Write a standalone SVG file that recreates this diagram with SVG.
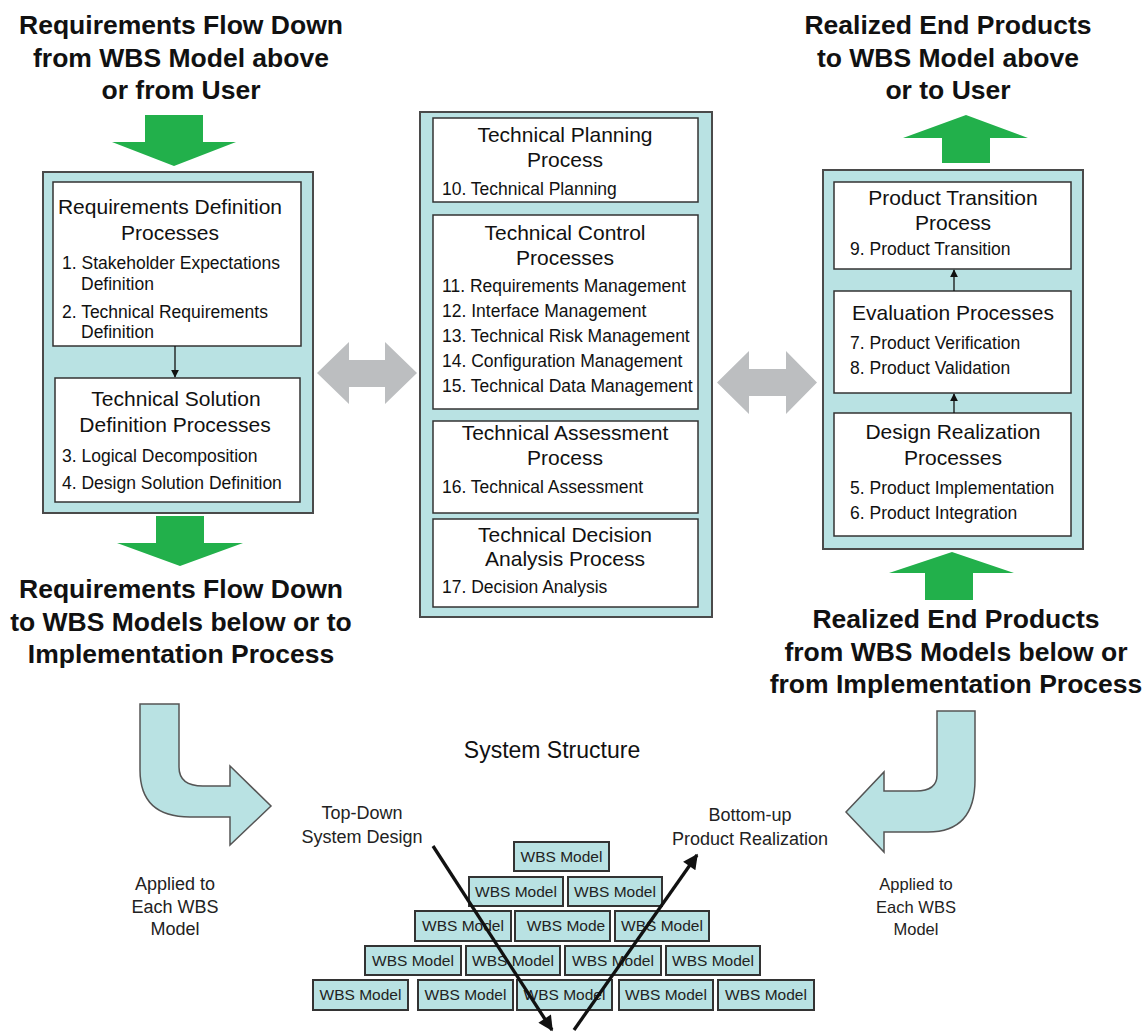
<svg xmlns="http://www.w3.org/2000/svg" width="1144" height="1034" viewBox="0 0 1144 1034">
<defs>
<style>
.panel{fill:#b9e2e3;stroke:#4a4a4a;stroke-width:2}
.box{fill:#fff;stroke:#333;stroke-width:1.5}
.wbs{fill:#b9e2e3;stroke:#333;stroke-width:2}
.head{font-family:"Liberation Sans",Arial,sans-serif;font-weight:bold;font-size:26.5px;fill:#111;text-anchor:middle}
.title{font-family:"Liberation Sans",Arial,sans-serif;font-size:21px;fill:#111;text-anchor:middle}
.item{font-family:"Liberation Sans",Arial,sans-serif;font-size:17.5px;fill:#111}
.lbl{font-family:"Liberation Sans",Arial,sans-serif;font-size:18px;fill:#222;text-anchor:middle}
.wt{font-family:"Liberation Sans",Arial,sans-serif;font-size:15.5px;fill:#222;text-anchor:middle}
.green{fill:#22b04b}
.gray{fill:#bcbec0}
.curve{fill:#b9e2e3;stroke:#555;stroke-width:1.5}
.thin{stroke:#111;stroke-width:1.3;fill:none}
.thick{stroke:#111;stroke-width:3.3;fill:none}
</style>
<marker id="sm" viewBox="0 0 10 10" refX="9" refY="5" markerWidth="8" markerHeight="8" markerUnits="userSpaceOnUse" orient="auto">
<path d="M0,0 L10,5 L0,10 Z" fill="#111"/>
</marker>
<marker id="bm" viewBox="0 0 10 10" refX="9" refY="5" markerWidth="17" markerHeight="15" markerUnits="userSpaceOnUse" orient="auto">
<path d="M0,0 L10,5 L0,10 Z" fill="#111"/>
</marker>
</defs>
<rect width="1144" height="1034" fill="#fff"/>

<g id="heading-left">
<text class="head" x="181" y="34">Requirements Flow Down</text>
<text class="head" x="181" y="67">from WBS Model above</text>
<text class="head" x="181" y="99">or from User</text>
</g>
<g id="heading-right">
<text class="head" x="948" y="34">Realized End Products</text>
<text class="head" x="948" y="67">to WBS Model above</text>
<text class="head" x="948" y="99">or to User</text>
</g>
<g id="heading-bottom-left">
<text class="head" x="181" y="598">Requirements Flow Down</text>
<text class="head" x="181" y="631">to WBS Models below or to</text>
<text class="head" x="181" y="663">Implementation Process</text>
</g>
<g id="heading-bottom-right">
<text class="head" x="956" y="628">Realized End Products</text>
<text class="head" x="956" y="661">from WBS Models below or</text>
<text class="head" x="956" y="693">from Implementation Process</text>
</g>

<g id="left-panel">
<rect class="panel" x="43" y="172" width="270" height="341"/>
<g id="req-def">
<rect class="box" x="53" y="182" width="248" height="164"/>
<text class="title" x="170" y="214">Requirements Definition</text>
<text class="title" x="170" y="240">Processes</text>
<text class="item" x="62" y="269">1. Stakeholder Expectations</text>
<text class="item" x="81" y="290">Definition</text>
<text class="item" x="62" y="318">2. Technical Requirements</text>
<text class="item" x="81" y="338">Definition</text>
</g>
<g id="tech-sol">
<rect class="box" x="55" y="378" width="245" height="124"/>
<text class="title" x="176" y="406">Technical Solution</text>
<text class="title" x="175" y="432">Definition Processes</text>
<text class="item" x="62" y="462">3. Logical Decomposition</text>
<text class="item" x="62" y="489">4. Design Solution Definition</text>
</g>
</g>

<g id="middle-panel">
<rect class="panel" x="420" y="112" width="292" height="505"/>
<g id="tech-planning">
<rect class="box" x="433" y="118" width="265" height="84"/>
<text class="title" x="565" y="142">Technical Planning</text>
<text class="title" x="565" y="167">Process</text>
<text class="item" x="442" y="195">10. Technical Planning</text>
</g>
<g id="tech-control">
<rect class="box" x="433" y="215" width="265" height="194"/>
<text class="title" x="565" y="240">Technical Control</text>
<text class="title" x="565" y="265">Processes</text>
<text class="item" x="442" y="292">11. Requirements Management</text>
<text class="item" x="442" y="317">12. Interface Management</text>
<text class="item" x="442" y="342">13. Technical Risk Management</text>
<text class="item" x="442" y="367">14. Configuration Management</text>
<text class="item" x="442" y="392">15. Technical Data Management</text>
</g>
<g id="tech-assessment">
<rect class="box" x="433" y="421" width="265" height="92"/>
<text class="title" x="565" y="440">Technical Assessment</text>
<text class="title" x="565" y="465">Process</text>
<text class="item" x="442" y="493">16. Technical Assessment</text>
</g>
<g id="tech-decision">
<rect class="box" x="433" y="519" width="265" height="88"/>
<text class="title" x="565" y="542">Technical Decision</text>
<text class="title" x="565" y="566">Analysis Process</text>
<text class="item" x="442" y="593">17. Decision Analysis</text>
</g>
</g>

<g id="right-panel">
<rect class="panel" x="823" y="170" width="260" height="379"/>
<g id="product-transition">
<rect class="box" x="834" y="182" width="237" height="87"/>
<text class="title" x="953" y="205">Product Transition</text>
<text class="title" x="953" y="230">Process</text>
<text class="item" x="850" y="255">9. Product Transition</text>
</g>
<g id="evaluation">
<rect class="box" x="834" y="291" width="237" height="102"/>
<text class="title" x="953" y="320">Evaluation Processes</text>
<text class="item" x="850" y="349">7. Product Verification</text>
<text class="item" x="850" y="374">8. Product Validation</text>
</g>
<g id="design-realization">
<rect class="box" x="834" y="413" width="237" height="123"/>
<text class="title" x="953" y="439">Design Realization</text>
<text class="title" x="953" y="465">Processes</text>
<text class="item" x="850" y="494">5. Product Implementation</text>
<text class="item" x="850" y="519">6. Product Integration</text>
</g>
</g>

<g id="system-structure">
<text class="title" x="552" y="758" style="font-size:23px">System Structure</text>
<text class="lbl" x="362" y="819">Top-Down</text>
<text class="lbl" x="362" y="843">System Design</text>
<text class="lbl" x="750" y="821">Bottom-up</text>
<text class="lbl" x="750" y="845">Product Realization</text>
<text class="lbl" x="175" y="890">Applied to</text>
<text class="lbl" x="175" y="913">Each WBS</text>
<text class="lbl" x="175" y="935">Model</text>
<text class="lbl" x="916" y="890" style="font-size:16.5px">Applied to</text>
<text class="lbl" x="916" y="913" style="font-size:16.5px">Each WBS</text>
<text class="lbl" x="916" y="935" style="font-size:16.5px">Model</text>
</g>

<g id="wbs-pyramid">
<g id="wbs-1-1"><rect class="wbs" x="514" y="842" width="95" height="29"/><text class="wt" x="561.5" y="862">WBS Model</text></g>
<g id="wbs-2-1"><rect class="wbs" x="469" y="877" width="94" height="29"/><text class="wt" x="516" y="897">WBS Model</text></g>
<g id="wbs-2-2"><rect class="wbs" x="568" y="877" width="94" height="29"/><text class="wt" x="615" y="897">WBS Model</text></g>
<g id="wbs-3-1"><rect class="wbs" x="415" y="911" width="96" height="30"/><text class="wt" x="463" y="931">WBS Model</text></g>
<g id="wbs-3-2"><rect class="wbs" x="515" y="911" width="95" height="30"/><text class="wt" x="566" y="931">WBS Mode</text></g>
<g id="wbs-3-3"><rect class="wbs" x="615" y="911" width="94" height="30"/><text class="wt" x="662" y="931">WBS Model</text></g>
<g id="wbs-4-1"><rect class="wbs" x="365" y="946" width="96" height="29"/><text class="wt" x="413" y="966">WBS Model</text></g>
<g id="wbs-4-2"><rect class="wbs" x="466" y="946" width="94" height="29"/><text class="wt" x="513" y="966">WBS Model</text></g>
<g id="wbs-4-3"><rect class="wbs" x="565" y="946" width="96" height="29"/><text class="wt" x="613" y="966">WBS Model</text></g>
<g id="wbs-4-4"><rect class="wbs" x="666" y="946" width="94" height="29"/><text class="wt" x="713" y="966">WBS Model</text></g>
<g id="wbs-5-1"><rect class="wbs" x="313" y="980" width="95" height="30"/><text class="wt" x="360.5" y="1000">WBS Model</text></g>
<g id="wbs-5-2"><rect class="wbs" x="418" y="980" width="95" height="30"/><text class="wt" x="465.5" y="1000">WBS Model</text></g>
<g id="wbs-5-3"><rect class="wbs" x="517" y="980" width="95" height="30"/><text class="wt" x="564.5" y="1000">WBS Model</text></g>
<g id="wbs-5-4"><rect class="wbs" x="619" y="980" width="94" height="30"/><text class="wt" x="666" y="1000">WBS Model</text></g>
<g id="wbs-5-5"><rect class="wbs" x="718" y="980" width="96" height="30"/><text class="wt" x="766" y="1000">WBS Model</text></g>
</g>

<g id="connectors">
<path class="green" d="M145,115 H203 V142 H236 L174,166 L112,142 H145 Z"/>
<path class="green" d="M156,516 H204 V543 H243 L180,566 L117,543 H156 Z"/>
<path class="green" d="M942,163 V138 H903 L966,115 L1028,138 H990 V163 Z"/>
<path class="green" d="M925,600 V573 H889 L952,552 L1014,573 H973 V600 Z"/>
<path class="gray" d="M317,373 L349,342 V360 H385 V342 L417,373 L385,404 V387 H349 V404 Z"/>
<path class="gray" d="M717,382.5 L749,351 V369 H786 V351 L817,382.5 L786,414 V396 H749 V414 Z"/>
<line class="thin" x1="175" y1="346" x2="175" y2="377" marker-end="url(#sm)"/>
<line class="thin" x1="954" y1="291" x2="954" y2="270" marker-end="url(#sm)"/>
<line class="thin" x1="954" y1="413" x2="954" y2="394" marker-end="url(#sm)"/>
<path class="curve" d="M140,704 H179 V767 Q179,786 203,786 H230 V766 L271,806 L230,845 V817 H190 Q140,817 140,770 Z"/>
<path class="curve" d="M975,711 H937 V775 Q937,791 916,791 H884 V772 L846,812 L884,852 V832 H928 Q975,832 975,780 Z"/>
<line class="thick" x1="433" y1="846" x2="552" y2="1030" marker-end="url(#bm)"/>
<line class="thick" x1="574" y1="1030" x2="697" y2="855" marker-end="url(#bm)"/>
</g>
</svg>
